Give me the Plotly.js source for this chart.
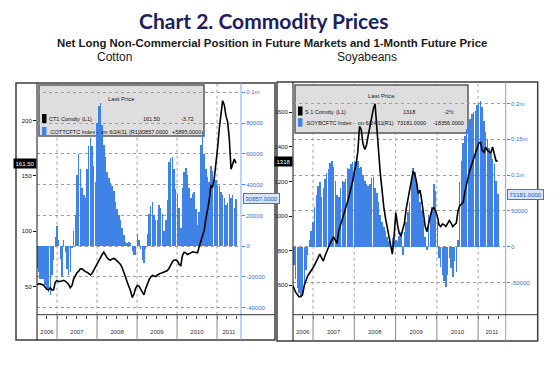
<!DOCTYPE html>
<html><head><meta charset="utf-8">
<script src="https://cdn.plot.ly/plotly-3.0.1.min.js"></script>
<style>html,body{margin:0;padding:0;background:#fff}#chart{width:559px;height:365px}</style>
</head><body><div id="chart"></div>
<script>
// ---- data (semi-monthly readings, Jul 2006 - 24 Jun 2011) ----
const START = '2006-07-01', END = '2011-06-24';
const years = [2006, 2007, 2008, 2009, 2010, 2011];

const cottonPosition = [
 -14000,-17000,-21000,-21000,-21000,-25000,-28000,-30000,-32000,-19000,
 -9000,6000,13000,4000,-8000,-20000,4000,-4000,-15000,-19000,
 -17000,-1000,10000,20000,46000,60000,50000,38000,33000,31000,
 50000,65000,70000,65000,52000,42000,80000,91000,93000,79000,
 66000,58000,48000,44000,41000,39000,36000,29000,24000,20000,
 17000,12000,7000,3000,2000,3000,2000,-3000,-6000,-6000,
 8000,4000,-2000,-9000,-11000,-2000,8000,21000,26000,29000,
 20000,17000,17000,27000,25000,21000,10000,17000,30000,55000,
 57000,58000,50000,37000,34000,25000,12000,38000,48000,51000,
 46000,38000,31000,34000,35000,24000,14000,22000,66000,75000,
 60000,50000,45000,42000,52000,49000,46000,43000,40000,39000,
 35000,33000,31000,27000,28000,34000,31000,33000,24962,30857];
const cottonPrice = [
 51.5,52.5,52.5,51.8,51.2,49.5,47.5,47,49,47,
 47,54,55.5,54.5,54.5,55,55.7,55,53.5,52,
 49,51,57,60.5,62.5,64,66,66,64.5,63.5,
 63,61.8,60.5,62,65,68,71,73.5,76.5,79,
 81,78,76,74.5,74,75,75.5,74.5,73,71.5,
 70,67,63.5,58.5,54,50,46,40,43,48.5,
 51,50.5,48,44,42.5,48,53,56,58.5,60,
 59.5,59,60.5,61.5,62,62.5,63,63.8,64.5,66.5,
 69.5,72.5,74,74,73,70,69,78,81,80.5,
 79,79.5,80.5,81.5,81,80.5,80.5,86,91,96,
 101,111,120,128,141,140,148,160,175,193,
 207,218,214,204,199,184,156,160,165.22,161.5];
const soyPosition = [
 -14000,-25000,-45000,-58000,-65000,-70000,-68000,-52000,-33000,-12000,
 10000,22000,35000,55000,72000,85000,90000,70000,82000,95000,
 103000,108000,117000,120000,112000,92000,72000,70000,82000,92000,
 90000,95000,110000,108000,115000,118000,120000,118000,120000,110000,
 112000,100000,92000,88000,85000,88000,96000,98000,82000,75000,
 62000,45000,35000,28000,22000,14000,8000,6000,12000,8000,
 10000,8000,15000,20000,-12000,20000,35000,48000,62000,95000,
 110000,105000,92000,75000,62000,50000,38000,14000,-5000,45000,
 40000,55000,88000,78000,35000,-15000,-28000,-40000,-48000,-56000,
 -40000,-15000,-30000,-42000,-20000,-35000,10000,90000,120000,145000,
 155000,165000,172000,178000,185000,188000,190000,198000,200000,203000,
 195000,175000,160000,150000,138000,130000,122000,115000,91537,73181];
const soyPrice = [
 600,585,560,545,533,535,545,600,635,655,
 670,690,700,718,740,760,780,760,740,770,
 800,820,842,860,880,860,842,915,950,977,
 1005,1040,1080,1115,1160,1200,1260,1300,1370,1520,
 1500,1420,1385,1410,1465,1520,1570,1620,1650,1530,
 1380,1250,1150,1055,990,935,890,830,780,880,
 1020,950,900,885,920,960,1040,1100,1150,1200,
 1260,1240,1200,1130,1150,1090,1000,940,910,960,
 1000,1040,1050,1030,1000,950,940,955,950,940,
 955,975,960,940,950,960,1030,1060,1070,1080,
 1140,1190,1230,1270,1300,1330,1360,1390,1420,1430,
 1380,1370,1400,1380,1370,1365,1400,1360,1320.5,1318];

const cottonPosTicks = [-40000,-20000,0,20000,40000,60000,80000,100000];
const cottonPosLabels = ['-40000','-20000','0','20000','40000','60000','80000','0.1m'];
const cottonPriceTicks = [50,100,150,200];
const soyPosTicks = [-50000,0,50000,100000,150000,200000];
const soyPosLabels = ['-50000','0','50000','0.1m','0.15m','0.2m'];
const soyPriceTicks = [600,800,1000,1200,1400,1600];

const legend1 = {price:'CT1 Comdty', pos:'.COTTCFTC Index -&nbsp;&nbsp;on 6/24/11', chg1:'-3.72', chg2:'+5895.0000'};
const legend2 = {price:'S 1 Comdty', pos:'.SOYBCFTC Index -&nbsp;&nbsp;on 6/24/11', chg1:'-2½', chg2:'-18356.0000'};

// ---- helpers ----
const W = 559, H = 365;
const P = x => x / W, Q = y => 1 - y / H;
const SMALL = 'Liberation Sans, Arial, sans-serif';
const BLUE = '#3f83e6';
const s0 = Date.parse(START), s1 = Date.parse(END);
const N = cottonPosition.length;
const step = (s1 - s0) / (N - 1);
const dates = cottonPosition.map((_, i) => new Date(s0 + step * i).toISOString().slice(0, 10));

const plotTop = 83, plotBot = 314.7;
const g1 = {pl:37, pr:241, fl:16, ft:83, fr:275, fb:340, range:['2006-07-02','2011-08-08']};
const g2 = {pl:293, pr:505.7, fl:277, ft:82, fr:537.7, fb:341, range:['2006-07-08','2011-09-02']};

function yearMids(range) {
  const a = Date.parse(range[0]), b = Date.parse(range[1]);
  return years.map(y => {
    const lo = Math.max(a, Date.UTC(y,0,1)), hi = Math.min(b, Date.UTC(y+1,0,1));
    return new Date((lo + hi) / 2).toISOString().slice(0, 10);
  });
}

function xaxisDef(g) {
  return {
    domain:[P(g.pl), P(g.pr)], type:'date', range:g.range,
    tickmode:'array', tickvals:yearMids(g.range), ticktext:years.map(String),
    ticks:'', showgrid:false, zeroline:false, showline:false,
    tickfont:{family:SMALL, size:6, color:'#333'}, ticklabelstandoff:12,
    minor:{tickmode:'linear', tick0:'2006-01-01', dtick:'M3', ticks:'outside', ticklen:3, tickcolor:'#444', showgrid:false},
    fixedrange:true
  };
}
function posAxis(g, anchor, range, tv, tt) {
  return {
    domain:[Q(plotBot), Q(plotTop)], anchor:anchor, side:'right', range:range,
    tickmode:'array', tickvals:tv, ticktext:tt,
    tickfont:{family:SMALL, size:6, color:'#3a6fd4'},
    ticks:'outside', ticklen:3, tickcolor:'#4a86e8',
    showgrid:true, gridcolor:'#9c9c9c', griddash:'dot', gridwidth:1,
    zeroline:false, showline:false
  };
}
function priceAxis(over, anchor, range, tv) {
  return {
    overlaying:over, anchor:anchor, side:'left', range:range,
    tickmode:'array', tickvals:tv, ticktext:tv.map(String),
    tickfont:{family:SMALL, size:6, color:'#111'},
    ticks:'outside', ticklen:3, tickcolor:'#111',
    showgrid:false, zeroline:false, showline:false
  };
}

const traces = [
  {type:'bar', x:dates, y:cottonPosition, xaxis:'x', yaxis:'y', width:step*0.9,
   marker:{color:BLUE, line:{width:0}}, hoverinfo:'skip'},
  {type:'scatter', mode:'lines', x:dates, y:cottonPrice, xaxis:'x', yaxis:'y2',
   line:{color:'#000', width:1.6}, hoverinfo:'skip'},
  {type:'bar', x:dates, y:soyPosition, xaxis:'x2', yaxis:'y3', width:step*0.9,
   marker:{color:BLUE, line:{width:0}}, hoverinfo:'skip'},
  {type:'scatter', mode:'lines', x:dates, y:soyPrice, xaxis:'x2', yaxis:'y4',
   line:{color:'#000', width:1.6}, hoverinfo:'skip'}
];

const shapes = [];
const ann = [];
function line(x0,y0,x1,y1,color,width,dash,layer){
  shapes.push({type:'line', xref:'paper', yref:'paper', x0:P(x0), y0:Q(y0), x1:P(x1), y1:Q(y1),
    line:{color:color, width:width, dash:dash||'solid'}, layer:layer||'above'});
}
function rect(x0,y0,x1,y1,fill,color,width,layer){
  shapes.push({type:'rect', xref:'paper', yref:'paper', x0:P(x0), y0:Q(y0), x1:P(x1), y1:Q(y1),
    fillcolor:fill, line:{color:color, width:width}, layer:layer||'above'});
}
function txt(x,y,text,xanchor,size,color,family,extra){
  ann.push(Object.assign({xref:'paper', yref:'paper', x:P(x), y:Q(y), text:text, showarrow:false,
    xanchor:xanchor||'left', yanchor:'middle', font:{family:family||SMALL, size:size||5.5, color:color||'#111'}}, extra||{}));
}

function panel(g, xref) {
  rect(g.fl, g.ft, g.fr, g.fb, 'rgba(0,0,0,0)', '#3c3c3c', 1.5);
  line(g.pl, g.ft, g.pl, g.fb, '#111', 1);
  line(g.pr, g.ft, g.pr, g.fb, '#7aa6ee', 1);
  line(g.pl, plotBot, g.fr, plotBot, '#333', 1);
  years.slice(1).forEach(y => {
    const d = y + '-01-01';
    shapes.push({type:'line', xref:xref, yref:'paper', x0:d, x1:d, y0:Q(plotBot), y1:Q(plotTop),
      line:{color:'#a0a0a0', width:1, dash:'dot'}, layer:'below'});
    shapes.push({type:'line', xref:xref, yref:'paper', x0:d, x1:d, y0:Q(g.fb), y1:Q(plotBot),
      line:{color:'#888', width:1}, layer:'above'});
  });
}
panel(g1, 'x');
panel(g2, 'x2');

function legendBox(b, L, lastPrice, lastPos) {
  rect(b.x0, b.y0, b.x1, b.y1, '#dedede', '#5a5a5a', 1.5, 'below');
  txt((b.x0+b.x1)/2, b.hy, 'Last Price', 'center', 6, '#222');
  rect(b.x0+3, b.r1-5, b.x0+7.5, b.r1+4, '#000', '#000', 0);
  rect(b.x0+3, b.r2-4.5, b.x0+7.5, b.r2+4, BLUE, BLUE, 0);
  txt(b.x0+8, b.r1, L.price, 'left');
  txt(b.l1x, b.r1, '(L1)', 'left');
  txt(b.v1, b.r1, lastPrice, 'right');
  txt(b.c1, b.r1, L.chg1, 'right');
  txt(b.x0+8, b.r2, L.pos, 'left');
  txt(b.rx, b.r2, '(R1)', 'left');
  txt(b.v2, b.r2, lastPos, 'right');
  txt(b.c2, b.r2, L.chg2, 'right');
}
const lastCP = cottonPrice[N-1], lastCPos = cottonPosition[N-1];
const lastSP = soyPrice[N-1], lastSPos = soyPosition[N-1];
legendBox({x0:39, y0:85, x1:204, y1:136, hy:99, r1:119, r2:131.5, l1x:80, v1:162, c1:196, rx:127, v2:170, c2:203},
  legend1, lastCP.toFixed(2), lastCPos.toFixed(4));
legendBox({x0:295, y0:85, x1:468, y1:133, hy:96, r1:111.5, r2:122.7, l1x:334, v1:417, c1:456, rx:381, v2:428, c2:466},
  legend2, String(lastSP), lastSPos.toFixed(4));

// last value tags
const tagFont = c => ({family:SMALL, size:6, color:c});
ann.push({xref:'paper', yref:'y2', x:P(g1.pl), y:lastCP, text:lastCP.toFixed(2), showarrow:false,
  xanchor:'right', yanchor:'middle', bgcolor:'#000', borderpad:1.5, font:tagFont('#fff')});
ann.push({xref:'paper', yref:'y', x:P(g1.pr+2), y:lastCPos, text:lastCPos.toFixed(4), showarrow:false,
  xanchor:'left', yanchor:'middle', bgcolor:'#d8e5fb', bordercolor:'#3f77d6', borderwidth:1, borderpad:1.5,
  font:tagFont('#2856b0')});
ann.push({xref:'paper', yref:'y4', x:P(g2.pl), y:lastSP, text:String(lastSP), showarrow:false,
  xanchor:'right', yanchor:'middle', bgcolor:'#000', borderpad:1.5, font:tagFont('#fff')});
ann.push({xref:'paper', yref:'y3', x:P(g2.pr+1), y:lastSPos, text:lastSPos.toFixed(4), showarrow:false,
  xanchor:'left', yanchor:'middle', bgcolor:'#d8e5fb', bordercolor:'#3f77d6', borderwidth:1, borderpad:1.5,
  font:tagFont('#2856b0')});

// titles
txt(263.5, 20, '<b>Chart 2. Commodity Prices</b>', 'center', 21, '#1c215e', 'Lato, Open Sans, sans-serif');
txt(272, 43, '<b>Net Long Non-Commercial Position in Future Markets and 1-Month Future Price</b>', 'center', 11.4, '#1a1a1a', 'Liberation Sans, Arial, sans-serif');
txt(114.5, 57.5, 'Cotton', 'center', 12, '#1a1a1a', 'Liberation Sans, Arial, sans-serif');
txt(367, 57.5, 'Soyabeans', 'center', 12, '#1a1a1a', 'Liberation Sans, Arial, sans-serif');

const layout = {
  width:W, height:H, autosize:false, margin:{l:0,r:0,t:0,b:0},
  paper_bgcolor:'#fff', plot_bgcolor:'rgba(0,0,0,0)', showlegend:false, bargap:0,
  xaxis:Object.assign(xaxisDef(g1), {anchor:'y'}),
  xaxis2:Object.assign(xaxisDef(g2), {anchor:'y3'}),
  yaxis:posAxis(g1, 'x', [-44500, 106000], cottonPosTicks, cottonPosLabels),
  yaxis2:priceAxis('y', 'x', [24.6, 234], cottonPriceTicks),
  yaxis3:posAxis(g2, 'x2', [-94800, 228600], soyPosTicks, soyPosLabels),
  yaxis4:priceAxis('y3', 'x2', [430, 1770], soyPriceTicks),
  shapes:shapes, annotations:ann
};
Plotly.newPlot('chart', traces, layout, {staticPlot:true, displayModeBar:false});
</script>
</body></html>
